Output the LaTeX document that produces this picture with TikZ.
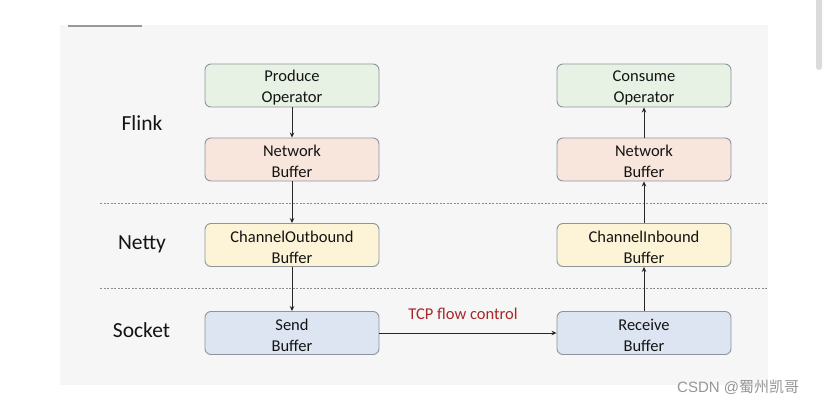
\documentclass[tikz,border=0pt]{standalone}
\usepackage{fontspec}
\setmainfont{Carlito}
\newfontfamily\cjkfont{Noto Sans CJK SC}
\newfontfamily\wmfont{Liberation Sans}
\usetikzlibrary{arrows.meta}
\definecolor{panel}{RGB}{246,246,246}
\definecolor{bordergray}{RGB}{140,150,155}
\definecolor{gfill}{RGB}{232,242,228}
\definecolor{pfill}{RGB}{248,230,220}
\definecolor{yfill}{RGB}{253,243,214}
\definecolor{bfill}{RGB}{221,228,242}
\definecolor{tcpred}{RGB}{168,40,40}
\definecolor{wmgray}{RGB}{150,150,150}
\newcommand{\twolines}[2]{\rule{0pt}{15.5pt}#1\\#2}
\tikzset{
  box/.style={draw=bordergray, line width=0.9pt, rounded corners=6pt, minimum width=174pt, minimum height=43pt, inner sep=0pt, align=center, font=\fontsize{16.5}{21}\selectfont, text=black!92},
  layer/.style={font=\fontsize{21.5}{24}\selectfont, text=black!92, inner sep=0pt},
  conn/.style={line width=0.9pt, black!85, -{Stealth[length=5pt,width=4.5pt]}},
  sep/.style={black!45, line width=0.6pt, dash pattern=on 2pt off 1.5pt}
}
\begin{document}
\begin{tikzpicture}[x=1pt,y=-1pt]
\useasboundingbox (0,0) rectangle (828,406);
\fill[white] (0,0) rectangle (828,406);
\fill[panel] (60,25) rectangle (768,385);
\draw[gray!80, line width=1.6pt] (68,26) -- (142,26);
\fill[black!14, rounded corners=3pt] (816,-4) rectangle (822,70);
% separators
\draw[sep] (100,203) -- (768,203);
\draw[sep] (100,288) -- (768,288);
% layer labels
\node[layer] (lflink) at (142,123) {Flink};
\node[layer] (lnetty) at (142,244) {Netty};
\node[layer] (lsocket) at (141.5,330) {Socket};
% left column
\node[box, fill=gfill] (prod) at (292,85.5) {\twolines{Produce}{Operator}};
\node[box, fill=pfill] (nbl) at (292,159.5) {\twolines{Network}{Buffer}};
\node[box, fill=yfill] (cob) at (292,245) {\twolines{ChannelOutbound}{Buffer}};
\node[box, fill=bfill] (send) at (292,333) {\twolines{Send}{Buffer}};
% right column
\node[box, fill=gfill] (cons) at (644,85.5) {\twolines{Consume}{Operator}};
\node[box, fill=pfill] (nbr) at (644,159.5) {\twolines{Network}{Buffer}};
\node[box, fill=yfill] (cib) at (644,245) {\twolines{ChannelInbound}{Buffer}};
\node[box, fill=bfill] (recv) at (644,333) {\twolines{Receive}{Buffer}};
% connectors
\draw[conn] (prod) -- (nbl);
\draw[conn] (nbl) -- (cob);
\draw[conn] (cob) -- (send);
\draw[conn] (send) -- (recv);
\draw[conn] (recv) -- (cib);
\draw[conn] (cib) -- (nbr);
\draw[conn] (nbr) -- (cons);
\node[text=tcpred, font=\fontsize{16.5}{20}\selectfont, inner sep=0pt] (tcp) at (463,314) {TCP flow control};
% watermark
\node[text=wmgray, inner sep=0pt, anchor=west] (wm) at (677,387) {\wmfont\fontsize{15}{18}\selectfont CSDN @\cjkfont 蜀州凯哥};
\end{tikzpicture}
\end{document}
